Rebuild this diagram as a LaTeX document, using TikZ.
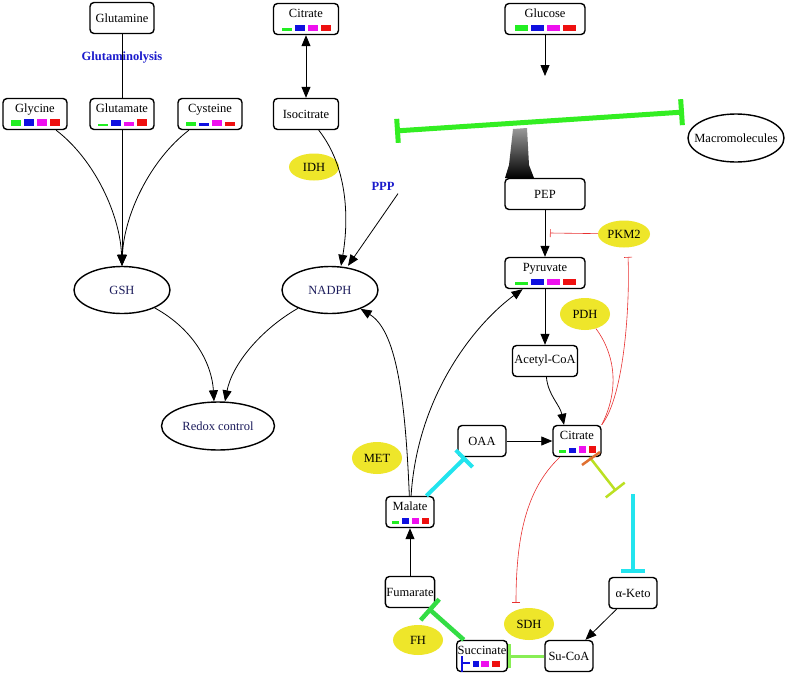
\documentclass[tikz,border=0pt]{standalone}
\usepackage{fontspec}
\setmainfont{Liberation Serif}
\usetikzlibrary{arrows.meta,shapes.geometric}
\definecolor{greenc}{HTML}{22EE22}
\definecolor{bluec}{HTML}{1010E0}
\definecolor{magentac}{HTML}{EE10EE}
\definecolor{redc}{HTML}{EE1010}
\definecolor{limec}{HTML}{33EE22}
\definecolor{cyanc}{HTML}{22E4EE}
\definecolor{olivec}{HTML}{BBE022}
\definecolor{leafc}{HTML}{33DD44}
\definecolor{mintc}{HTML}{88EE55}
\definecolor{orangec}{HTML}{E07030}
\definecolor{inhibc}{HTML}{E83030}
\definecolor{yellowc}{HTML}{EEE62A}
\definecolor{navyc}{HTML}{1C1C5C}
\definecolor{labelc}{HTML}{1A1ACC}

\newcommand{\cbar}[6]{%
  \foreach \col/\hh [count=\i] in {greenc/#3,bluec/#4,magentac/#5,redc/#6}{
    \pgfmathsetmacro{\xo}{(\i-1)*(#2+3)-(4*#2+9)/2}
    \fill[\col] ([shift={(\xo,12)}]#1.center) rectangle ++(#2,-\hh);
  }}

\begin{document}
\begin{tikzpicture}[x=1pt, y=-1pt, font=\fontsize{12.5}{14}\selectfont,
    met/.style={draw, line width=1.4pt, rounded corners=4pt, fill=white, inner sep=1pt,
      minimum width=#1, minimum height=31pt},
    met/.default=64pt,
    barmet/.style={met=#1, text height=9pt, text depth=12pt},
    barmet/.default=64pt,
    pool/.style={ellipse, draw, line width=1.4pt, text=navyc, minimum width=96pt, minimum height=47pt},
    enz/.style={ellipse, fill=yellowc, inner sep=0pt, minimum width=50pt, minimum height=29pt},
    tag/.style={text=labelc, font=\fontsize{12.5}{14}\selectfont\bfseries},
    flow/.style={line width=0.8pt, -{Triangle[length=11pt, width=9pt]}},
    tee/.style={line width=#1, -{Bar[width=24pt]}},
    thin tee/.style={inhibc, line width=0.6pt, -{Bar[width=8pt]}}]
    \fill[white] (0,0) rectangle (787,675);

    \node[met] (glutamine) at (122,18) {Glutamine};
    \node[barmet] (glycine) at (35,114) {Glycine};
    \node[barmet] (glutamate) at (122,114) {Glutamate};
    \node[barmet] (cysteine) at (210,114) {Cysteine};
    \node[barmet=65pt] (citrin) at (306,19) {Citrate};
    \node[met=65pt] (isocit) at (306,114) {Isocitrate};
    \node[barmet=80pt] (glucose) at (545,19) {Glucose};
    \node[met=80pt] (pep) at (545,194) {PEP};
    \node[barmet=80pt] (pyruvate) at (545,273) {Pyruvate};
    \node[met=65pt] (acoa) at (545,361) {Acetyl-CoA};
    \node[barmet=48pt] (citrate) at (577,441) {Citrate};
    \node[met=48pt] (oaa) at (482,441) {OAA};
    \node[barmet=48pt] (malate) at (410,512) {Malate};
    \node[met=48pt] (fumarate) at (410,592) {Fumarate};
    \node[barmet=48pt] (succinate) at (482,656) {Succinate};
    \node[met=48pt] (sucoa) at (569,656) {Su-CoA};
    \node[met=48pt] (akg) at (633,593) {α-Keto};

    \node[pool] (gsh) at (122,290) {GSH};
    \node[pool] (nadph) at (330,290) {NADPH};
    \node[pool, minimum width=113pt, minimum height=48pt] (redox) at (218,426) {Redox control};
    \node[pool, text=black, minimum height=48pt] (macro) at (736,138) {\makebox[0pt]{Macromolecules}};

    \node[enz, minimum height=27pt] (idh) at (314,167) {IDH};
    \node[enz, minimum width=52pt, minimum height=27pt] (pkm) at (624,234) {PKM2};
    \node[enz, minimum height=32pt] (pdh) at (585,314) {PDH};
    \node[enz, minimum height=32pt] (met) at (377,458) {MET};
    \node[enz, minimum height=30pt] (fh) at (418,640) {FH};
    \node[enz, minimum height=32pt] (sdh) at (529,624) {SDH};

    \node[tag] (glnlys) at (122,58) {Glutaminolysis};
    \node[tag] (ppp) at (383,186) {PPP};

    \cbar{glycine}{10}{6}{7}{7}{7}
    \cbar{glutamate}{10}{2}{6}{4}{7}
    \cbar{cysteine}{10}{4}{3}{6}{4}
    \cbar{citrin}{10}{3}{6}{6}{6}
    \cbar{glucose}{13}{6}{6}{6}{6}
    \cbar{pyruvate}{13}{3}{6}{6}{6}
    \cbar{malate}{7}{3}{6}{6}{6}
    \cbar{citrate}{7}{3}{5}{7}{7}
    \draw[bluec, line width=1.5pt] ([shift={(-20,0)}]succinate.center) -- ++(0,16)
      ([shift={(-20,7)}]succinate.center) -- ++(8,0);
    \fill[bluec] ([shift={(-9,11)}]succinate.center) rectangle ++(6,-6);
    \fill[magentac] ([shift={(-1,11)}]succinate.center) rectangle ++(8,-6);
    \fill[redc] ([shift={(10,11)}]succinate.center) rectangle ++(8,-6);

    \draw[line width=0.8pt] (glutamine) -- (glutamate);
    \draw[flow] (glycine) .. controls (95,160) and (120,215) .. (gsh.north);
    \draw[flow] (glutamate) -- (gsh);
    \draw[flow] (cysteine) .. controls (150,160) and (124,215) .. (gsh.north);
    \draw[flow] (gsh) .. controls (195,330) and (212,365) .. ([xshift=-4pt]redox.north);
    \draw[flow] (nadph) .. controls (260,330) and (232,365) .. ([xshift=7pt]redox.north);
    \draw[line width=0.8pt, {Triangle[length=11pt, width=9pt]}-{Triangle[length=11pt, width=9pt]}] (citrin) -- (isocit);
    \draw[flow] (isocit) .. controls (350,170) and (348,225) .. ([xshift=11pt]nadph.north);
    \draw[flow] (ppp.south east) -- ([xshift=18pt]nadph.north);

    \coordinate (glcend) at (545,76);
    \draw[flow] (glucose) -- (glcend);
    \shade[top color=black!40, bottom color=black] (513,129) -- (527,128) -- (529,165) -- (534,178)
      -- (505,178) -- (509,165) -- cycle;
    \coordinate (barl) at (395,131);
    \coordinate (barr) at (684,112);
    \draw[limec, line width=5pt, {Bar[width=24pt]}-{Bar[width=26pt]}] (barl) -- (barr);

    \draw[flow] (pep) -- (pyruvate);
    \draw[flow] (pyruvate) -- (acoa);
    \draw[flow] (acoa) .. controls (548,395) and (560,405) .. ([xshift=-13pt]citrate.north);
    \draw[flow] (oaa) -- (citrate);
    \draw[flow] (fumarate) -- (malate);
    \draw[flow] (akg) -- (sucoa);
    \draw[flow] (malate) .. controls (405,390) and (395,330) .. (nadph);
    \draw[flow] (malate) .. controls (418,390) and (480,320) .. (pyruvate);

    \draw[cyanc, tee=4pt] (malate) -- (oaa);
    \coordinate (citend) at (616,491);
    \draw[olivec, tee=2.5pt] (citrate) -- (citend);
    \draw[orangec, line width=2.5pt] (582,465) -- (600,452);
    \coordinate (cyantop) at (633,494);
    \draw[cyanc, tee=3.5pt, shorten >=4pt] (cyantop) -- (akg);
    \draw[mintc, tee=3pt] (sucoa) -- (succinate);
    \draw[leafc, line width=4.5pt, -{Bar[width=28pt]}] (succinate) -- (fumarate);

    \coordinate (pkmend) at (550,233);
    \draw[thin tee] (pkm) -- (pkmend);
    \coordinate (pkmbase) at (628,257);
    \draw[thin tee] (citrate.north east) .. controls (625,395) and (630,300) .. (pkmbase);
    \draw[inhibc, line width=0.6pt] (pdh) .. controls (612,350) and (622,385) .. (citrate.north east);
    \draw[thin tee, shorten >=5pt] (citrate) .. controls (525,490) and (516,540) .. ([xshift=-13pt]sdh.north);
  \end{tikzpicture}
\end{document}
